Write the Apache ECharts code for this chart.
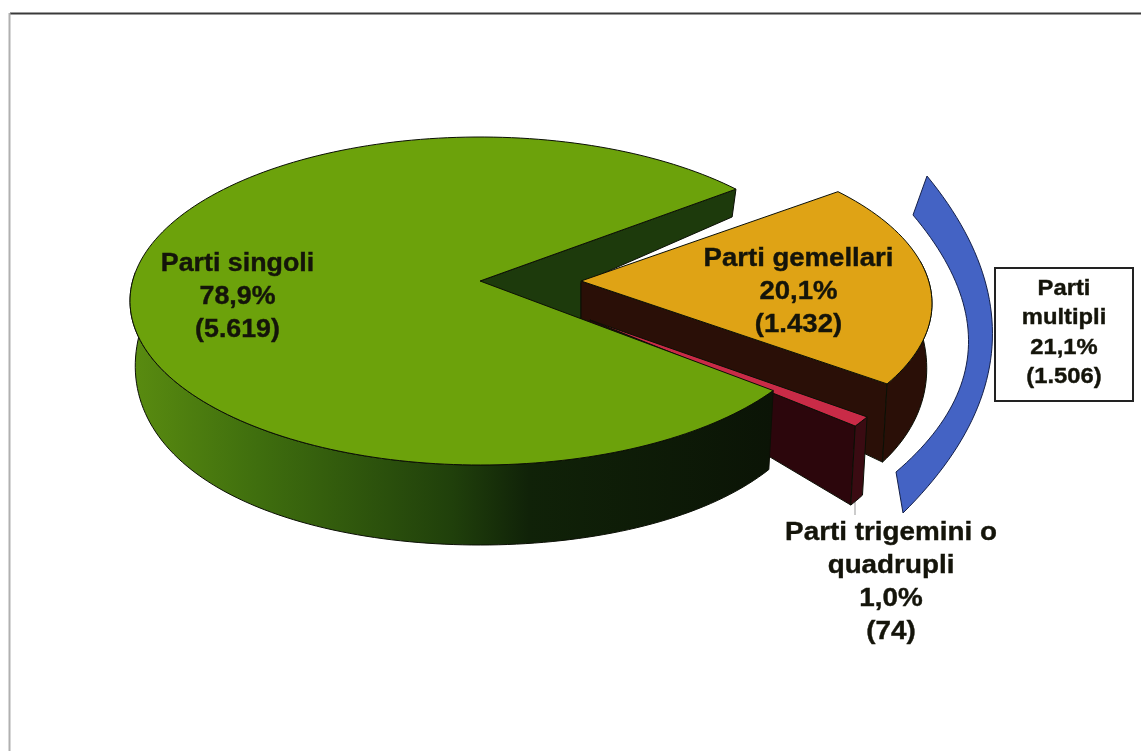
<!DOCTYPE html>
<html><head><meta charset="utf-8">
<style>html,body{margin:0;padding:0;background:#fff}#c{width:1141px;height:751px}</style>
<script src="https://cdn.jsdelivr.net/npm/echarts@6/dist/echarts.min.js"></script>
</head><body><div id="c"></div>
<script>
// ---- data ----
const categories = ['Parti gemellari', 'Parti trigemini o\nquadrupli', 'Parti singoli'];
const values = [1432, 74, 5619];
const percentLabels = ['20,1%', '1,0%', '78,9%'];
const valueLabels = ['(1.432)', '(74)', '(5.619)'];
const groupName = 'Parti\nmultipli';
const groupValue = 1506;
const groupPercent = '21,1%';
const groupValueLabel = '(1.506)';

// ---- 3D layout and styles (not data) ----
const START_DEG = -43, RX = 350, RY = 164, BOTTOM_SX = 0.985;
const depthAt = s => 65 + 38.5 * s - 23.5 * s * s;
const slices = [
  { cx: 582, cy: 303.5, ax: 581, ay: 281, ad: 38, top: '#dfa315', wall: '#2a0f07', rim: '#2a0f07',
    label: [798.5, 291.5], fs: 26, sx: 1.06 },
  { cx: 562, cy: 336.5, ax: 590, ay: 320, ad: 30, top: '#c92b47', wall: '#2c060c', rim: '#3a0b12',
    label: [891, 582], fs: 26, sx: 1.07 },
  { cx: 480, cy: 301, ax: 480, ay: 281, ad: 44, top: '#6ca20b', wall: '#1d3a0c', rim: null,
    label: [237.5, 296.5], fs: 26, sx: 1.03 }
];
const GREEN_WALL_FILL = [[581, 283], [581, 330]];
const Z = [4, 6, 8];
const TEXT = '#14140a';
const FONT = '"Liberation Sans", Arial, sans-serif';

const total = values.reduce((a, b) => a + b, 0);
const angles = []; let acc = START_DEG;
values.forEach(v => { const sw = v / total * 360; angles.push([acc, acc + sw]); acc += sw; });

const rad = d => d * Math.PI / 180;
const topPt = (p, d) => [p.cx + RX * Math.cos(rad(d)), p.cy + RY * Math.sin(rad(d))];
const botPt = (p, d) => {
  const s = Math.sin(rad(d));
  return [p.cx + BOTTOM_SX * RX * Math.cos(rad(d)), p.cy + RY * s + depthAt(s)];
};
const arc = (fn, p, a, b) => {
  const n = Math.max(4, Math.ceil(Math.abs(b - a) / 1.5)), out = [];
  for (let i = 0; i <= n; i++) out.push(fn(p, a + (b - a) * i / n));
  return out;
};
const poly = (points, fill, z2, stroke, lw) => ({
  type: 'polygon', z2, shape: { points },
  style: { fill, stroke: stroke || '#0b0f05', lineWidth: lw === undefined ? 1 : lw, lineJoin: 'round' }
});
const label = (text, x, y, fs, sx, lh) => ({
  type: 'text', x, y, scaleX: sx, z2: 40,
  style: { x: 0, y: 0, text, fill: TEXT, fontSize: fs, fontWeight: 'bold', fontFamily: FONT,
    align: 'center', verticalAlign: 'middle', lineHeight: lh, stroke: TEXT, lineWidth: 0.4 }
});

function renderSlice(params) {
  const i = params.dataIndex, p = slices[i], [a, b] = angles[i], ch = [];
  const apexBot = [p.ax, p.ay + p.ad];
  if (i === 0) {        // gold: radial wall, rim, top
    ch.push(poly([[p.ax, p.ay], topPt(p, b), botPt(p, b), apexBot], p.wall, Z[0]));
    ch.push(poly(arc(topPt, p, -15, b).concat(arc(botPt, p, b, -15)), p.rim, Z[0]));
    ch.push(poly([[p.ax, p.ay]].concat(arc(topPt, p, a, b)), p.top, Z[0] + 1));
  } else if (i === 1) { // red: radial wall, rim, top
    ch.push(poly([[p.ax, p.ay], topPt(p, b), botPt(p, b), apexBot], p.wall, Z[1]));
    ch.push(poly(arc(topPt, p, a, b).concat(arc(botPt, p, b, a)), p.rim, Z[1]));
    ch.push(poly([[p.ax, p.ay]].concat(arc(topPt, p, a, b)), p.top, Z[1] + 1));
  } else {              // green: back wall behind everything, rim and top in front
    ch.push(poly([[p.ax, p.ay], topPt(p, b), botPt(p, b)].concat(GREEN_WALL_FILL, [apexBot]), p.wall, 2));
    const rimFill = new echarts.graphic.LinearGradient(0, 0, 1, 0, [
      { offset: 0, color: '#5a8c10' }, { offset: 0.2, color: '#3f6e0e' },
      { offset: 0.5, color: '#20400b' }, { offset: 0.62, color: '#102208' },
      { offset: 1, color: '#0b1406' }]);
    ch.push(poly(arc(topPt, p, a, 190).concat(arc(botPt, p, 190, a)), rimFill, Z[2]));
    ch.push(poly([[p.ax, p.ay]].concat(arc(topPt, p, a, b)), p.top, Z[2] + 1));
  }
  const lines = categories[i] + '\n' + percentLabels[i] + '\n' + valueLabels[i];
  ch.push(label(lines, p.label[0], p.label[1], p.fs, p.sx, 33));
  return { type: 'group', children: ch };
}

// bracket over the two multiple-birth slices, with its box
const OUTER = [[927, 176], [1069, 349], [903, 513]];
const INNER = [[913, 215], [1032, 356], [896, 472]];
const bez = (c, t) => [0, 1].map(k => (1 - t) * (1 - t) * c[0][k] + 2 * t * (1 - t) * c[1][k] + t * t * c[2][k]);
function renderBracket() {
  const o = [], n = [];
  for (let i = 0; i <= 50; i++) { o.push(bez(OUTER, i / 50)); n.unshift(bez(INNER, i / 50)); }
  const text = groupName + '\n' + groupPercent + '\n' + groupValueLabel;
  return { type: 'group', children: [
    poly(o.concat(n), '#4463c4', 20, '#14204a', 1),
    { type: 'rect', z2: 21, shape: { x: 995, y: 268, width: 138, height: 133 },
      style: { fill: '#fff', stroke: '#222', lineWidth: 2 } },
    label(text, 1064, 333, 22, 1.08, 29.5),
    { type: 'line', z2: 3, shape: { x1: 855, y1: 502, x2: 855, y2: 515 },
      style: { stroke: '#999', lineWidth: 1 } }
  ] };
}

const chart = echarts.init(document.getElementById('c'), null, { renderer: 'canvas' });
chart.setOption({
  animation: false,
  backgroundColor: '#fff',
  graphic: [
    { type: 'line', shape: { x1: 10, y1: 13.5, x2: 1141, y2: 13.5 }, style: { stroke: '#3a3a3a', lineWidth: 2 } },
    { type: 'line', shape: { x1: 9.5, y1: 13, x2: 9.5, y2: 751 }, style: { stroke: '#b0b0b0', lineWidth: 2 } }
  ],
  series: [
    { type: 'custom', coordinateSystem: 'none', renderItem: renderSlice,
      data: values.map((v, i) => ({ name: categories[i], value: v })) },
    { type: 'custom', coordinateSystem: 'none', renderItem: renderBracket,
      data: [{ name: groupName, value: groupValue }] }
  ]
});
</script></body></html>
